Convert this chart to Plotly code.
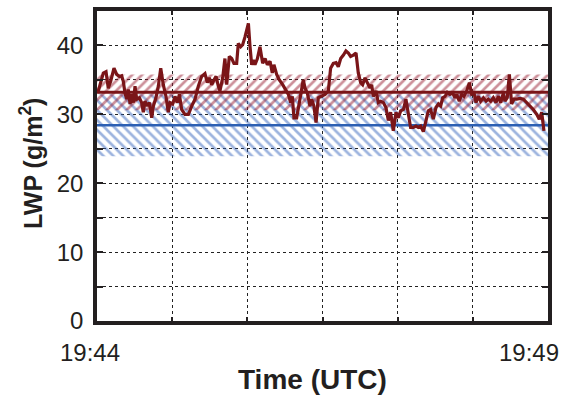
import plotly.graph_objects as go

# Seconds after 19:44:00 UTC
time_s = [
    0.5, 4.2, 6.0, 7.5, 9.1, 11.3, 13.1, 14.9, 16.4, 17.5,
    18.6, 19.7, 20.8, 22.0, 23.1, 24.2, 25.3, 26.4, 28.2, 29.7,
    30.8, 31.9, 33.5, 34.8, 36.4, 37.5, 39.2, 40.8, 42.4, 44.1,
    45.9, 47.4, 48.6, 50.3, 51.9, 53.4, 54.8, 56.3, 58.5, 60.8,
    63.0, 65.2, 67.4, 69.6, 71.8, 73.4, 74.7, 76.3, 77.8, 79.2,
    80.7, 81.8, 83.6, 85.1, 86.3, 88.0, 89.6, 91.1, 92.9, 94.0,
    95.6, 96.9, 98.4, 100.7, 101.8, 102.9, 104.0, 105.1, 106.7, 108.4,
    110.2, 111.8, 113.3, 115.1, 116.6, 117.7, 119.5, 121.3, 123.5, 125.7,
    127.3, 128.8, 129.9, 131.0, 132.8, 134.6, 136.1, 137.2, 138.4, 139.9,
    141.7, 142.8, 144.3, 145.7, 147.2, 149.4, 151.7, 153.9, 155.4, 157.2,
    159.0, 160.5, 162.1, 163.9, 165.6, 167.2, 168.7, 170.5, 172.3, 173.8,
    175.4, 176.7, 178.3, 179.8, 181.6, 182.7, 183.8, 185.6, 187.1, 188.7,
    190.5, 192.2, 193.8, 195.3, 197.1, 198.9, 200.4, 202.0, 203.8, 205.5,
    207.1, 208.6, 210.4, 212.2, 213.7, 215.3, 217.1, 218.8, 220.4, 221.9,
    223.7, 225.5, 227.1, 228.6, 229.9, 231.5, 233.0, 234.8, 236.6, 238.1,
    239.2, 241.0, 242.6, 244.1, 245.9, 247.7, 249.2, 250.8, 252.1, 253.7,
    255.2, 257.0, 258.8, 260.3, 261.9, 263.6, 265.4, 267.0, 268.5, 270.3,
    271.4, 272.9, 274.3, 275.8, 277.4, 279.2, 281.4, 283.6, 285.8, 288.0,
    290.2, 292.5, 294.2, 295.8, 297.3,
]

# Liquid water path (g/m^2)
lwp = [
    33.1, 36.0, 36.2, 33.8, 34.8, 36.7, 35.8, 35.5, 35.6, 34.8,
    33.1, 32.2, 33.6, 31.5, 32.9, 31.7, 34.1, 32.2, 32.4, 31.7,
    30.3, 31.9, 31.2, 31.7, 29.5, 31.2, 32.4, 34.1, 36.7, 34.3,
    32.6, 30.3, 31.7, 31.5, 32.6, 31.7, 32.9, 30.7, 30.0, 30.0,
    31.2, 32.2, 34.1, 35.5, 35.9, 34.6, 35.3, 34.3, 35.0, 35.5,
    34.1, 33.4, 35.3, 38.1, 34.3, 38.4, 38.1, 37.4, 37.4, 40.3,
    39.8, 40.1, 41.2, 43.2, 39.8, 37.2, 37.9, 37.2, 38.1, 39.8,
    37.4, 38.1, 37.2, 37.7, 36.0, 37.2, 35.8, 35.0, 34.3, 33.6,
    32.9, 31.7, 32.6, 29.5, 29.5, 31.7, 33.6, 35.0, 33.8, 33.1,
    31.2, 32.2, 31.2, 28.8, 32.4, 32.6, 32.9, 33.4, 36.7, 37.4,
    37.5, 36.9, 38.1, 38.6, 39.2, 38.9, 38.4, 38.6, 38.9, 36.0,
    34.6, 34.3, 35.3, 34.6, 33.8, 34.3, 32.6, 33.4, 31.7, 31.9,
    31.7, 31.0, 29.1, 30.3, 27.6, 30.3, 29.5, 30.5, 30.7, 32.2,
    30.3, 28.1, 28.1, 28.3, 28.1, 28.3, 27.5, 29.3, 30.5, 30.7,
    29.3, 31.0, 31.5, 31.2, 32.4, 32.6, 33.2, 32.9, 33.1, 32.4,
    32.9, 31.9, 32.9, 32.6, 33.4, 34.6, 32.9, 33.1, 31.7, 32.6,
    31.9, 32.4, 31.9, 32.2, 31.9, 32.4, 31.7, 32.6, 31.7, 33.1,
    31.9, 32.4, 35.8, 31.5, 32.2, 32.2, 32.3, 32.2, 31.7, 31.2,
    30.7, 30.0, 29.3, 30.3, 27.6,
]

# Reference statistics: mean and one standard deviation
red_mean, red_std = 33.2, 2.6
blue_mean, blue_std = 28.4, 4.5

t_start, t_end = 0, 300
x_tick_labels = ["19:44", "19:49"]

DARK_RED = "#7a1518"
HATCH_RED = "#9a1f33"
BLUE = "#2c5fb3"
HATCH_BLUE = "#3a68be"
FONT = "Liberation Sans"
TXT = "#231f20"

fig = go.Figure()


def band(mean, std, color, shape):
    lo, hi = mean - std, mean + std
    fig.add_trace(go.Scatter(
        x=[t_start, t_end, t_end, t_start, t_start],
        y=[lo, lo, hi, hi, lo],
        mode="none", fill="toself",
        fillcolor="rgba(0,0,0,0)",
        fillpattern=dict(shape=shape, size=7, solidity=0.38,
                         fgcolor=color, bgcolor="rgba(0,0,0,0)"),
        hoverinfo="skip", showlegend=False,
    ))


band(blue_mean, blue_std, HATCH_BLUE, "\\")
band(red_mean, red_std, HATCH_RED, "/")

fig.add_trace(go.Scatter(x=[t_start, t_end], y=[blue_mean, blue_mean],
                         mode="lines", line=dict(color=BLUE, width=2.5),
                         showlegend=False))
fig.add_trace(go.Scatter(x=[t_start, t_end], y=[red_mean, red_mean],
                         mode="lines", line=dict(color=DARK_RED, width=3),
                         showlegend=False))
fig.add_trace(go.Scatter(x=time_s, y=lwp, mode="lines",
                         line=dict(color=DARK_RED, width=3.2),
                         showlegend=False))

grid = dict(showgrid=True, gridcolor="#222", gridwidth=1, griddash="dot")
frame = dict(showline=True, linecolor="#231f20", linewidth=3.5, mirror="ticks",
             ticks="inside", tickcolor="#231f20", zeroline=False)

fig.update_xaxes(range=[t_start, t_end], tickvals=[0, 50, 100, 150, 200, 250, 300],
                 showticklabels=False, ticklen=4, tickwidth=1.5, **grid, **frame)
fig.update_yaxes(range=[0, 45], tick0=0, dtick=10, ticklen=6, tickwidth=2,
                 tickfont=dict(family=FONT, size=24, color=TXT),
                 ticklabelstandoff=5,
                 minor=dict(dtick=5, ticks="inside", ticklen=6, tickwidth=2,
                            tickcolor="#231f20", showgrid=True, gridcolor="#222",
                            gridwidth=1, griddash="dot"),
                 **grid, **frame)

ann = []
for xp, txt in zip([-0.0166, 0.958], x_tick_labels):
    ann.append(dict(x=xp, y=-0.100, xref="paper", yref="paper", text=txt,
                    showarrow=False, xanchor="center", yanchor="middle",
                    font=dict(family=FONT, size=24, color=TXT)))
ann.append(dict(x=0.477, y=-0.188, xref="paper", yref="paper", text="<b>Time (UTC)</b>",
                showarrow=False, xanchor="center", yanchor="middle",
                font=dict(family=FONT, size=28, color=TXT)))
ann.append(dict(x=-0.146, y=0.51, xref="paper", yref="paper",
                text="<b>LWP (g/m<sup>2</sup>)</b>", textangle=-90,
                showarrow=False, xanchor="center", yanchor="middle",
                font=dict(family=FONT, size=25, color=TXT)))

fig.update_layout(
    width=573, height=396,
    margin=dict(l=97, r=25, t=7, b=75),
    paper_bgcolor="white", plot_bgcolor="white",
    annotations=ann,
)

fig.write_html("out.html")
